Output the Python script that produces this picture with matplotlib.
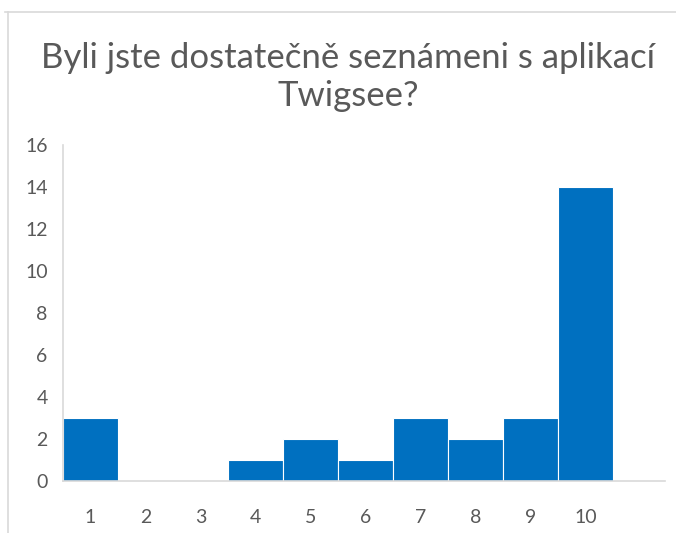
import matplotlib.pyplot as plt
from matplotlib.lines import Line2D

plt.rcParams['font.family'] = ['Lato', 'DejaVu Sans']

title = "Byli jste dostatečně seznámeni s aplikací\nTwigsee?"
categories = ['1', '2', '3', '4', '5', '6', '7', '8', '9', '10']
values = [3, 0, 0, 1, 2, 1, 3, 2, 3, 14]
yticks = [0, 2, 4, 6, 8, 10, 12, 14, 16]

txt = '#595959'
grey = '#d9d9d9'

fig = plt.figure(figsize=(6.76, 5.33), dpi=100)
ax = fig.add_axes([63/676, 1 - 481/533, (665-63)/676, (481-145)/533])

pos = list(range(1, len(categories) + 1))
ax.bar(pos, values, width=1.0, color='#0070C0', edgecolor='white', linewidth=0.8)

ax.set_xlim(0.5, 11.45)
ax.set_ylim(0, 16)
ax.set_xticks(pos)
ax.set_xticklabels(categories)
ax.set_yticks(yticks)
ax.tick_params(length=0, labelsize=14, labelcolor=txt)
ax.tick_params(axis='x', pad=20)
ax.tick_params(axis='y', pad=11)
for s in ['top', 'right']:
    ax.spines[s].set_visible(False)
for s in ['left', 'bottom']:
    ax.spines[s].set_color(grey)
    ax.spines[s].set_linewidth(1.2)

fig.text(348/676, 1 - 77/533, title, ha='center', va='center', fontsize=25,
         color=txt, linespacing=1.2)

# outer frame lines
fig.add_artist(Line2D([5/676, 1], [1 - 12/533, 1 - 12/533], color=grey, lw=1.2))
fig.add_artist(Line2D([8/676, 8/676], [0, 1 - 12/533], color=grey, lw=1.2))

fig.savefig('out.png', dpi=100)
